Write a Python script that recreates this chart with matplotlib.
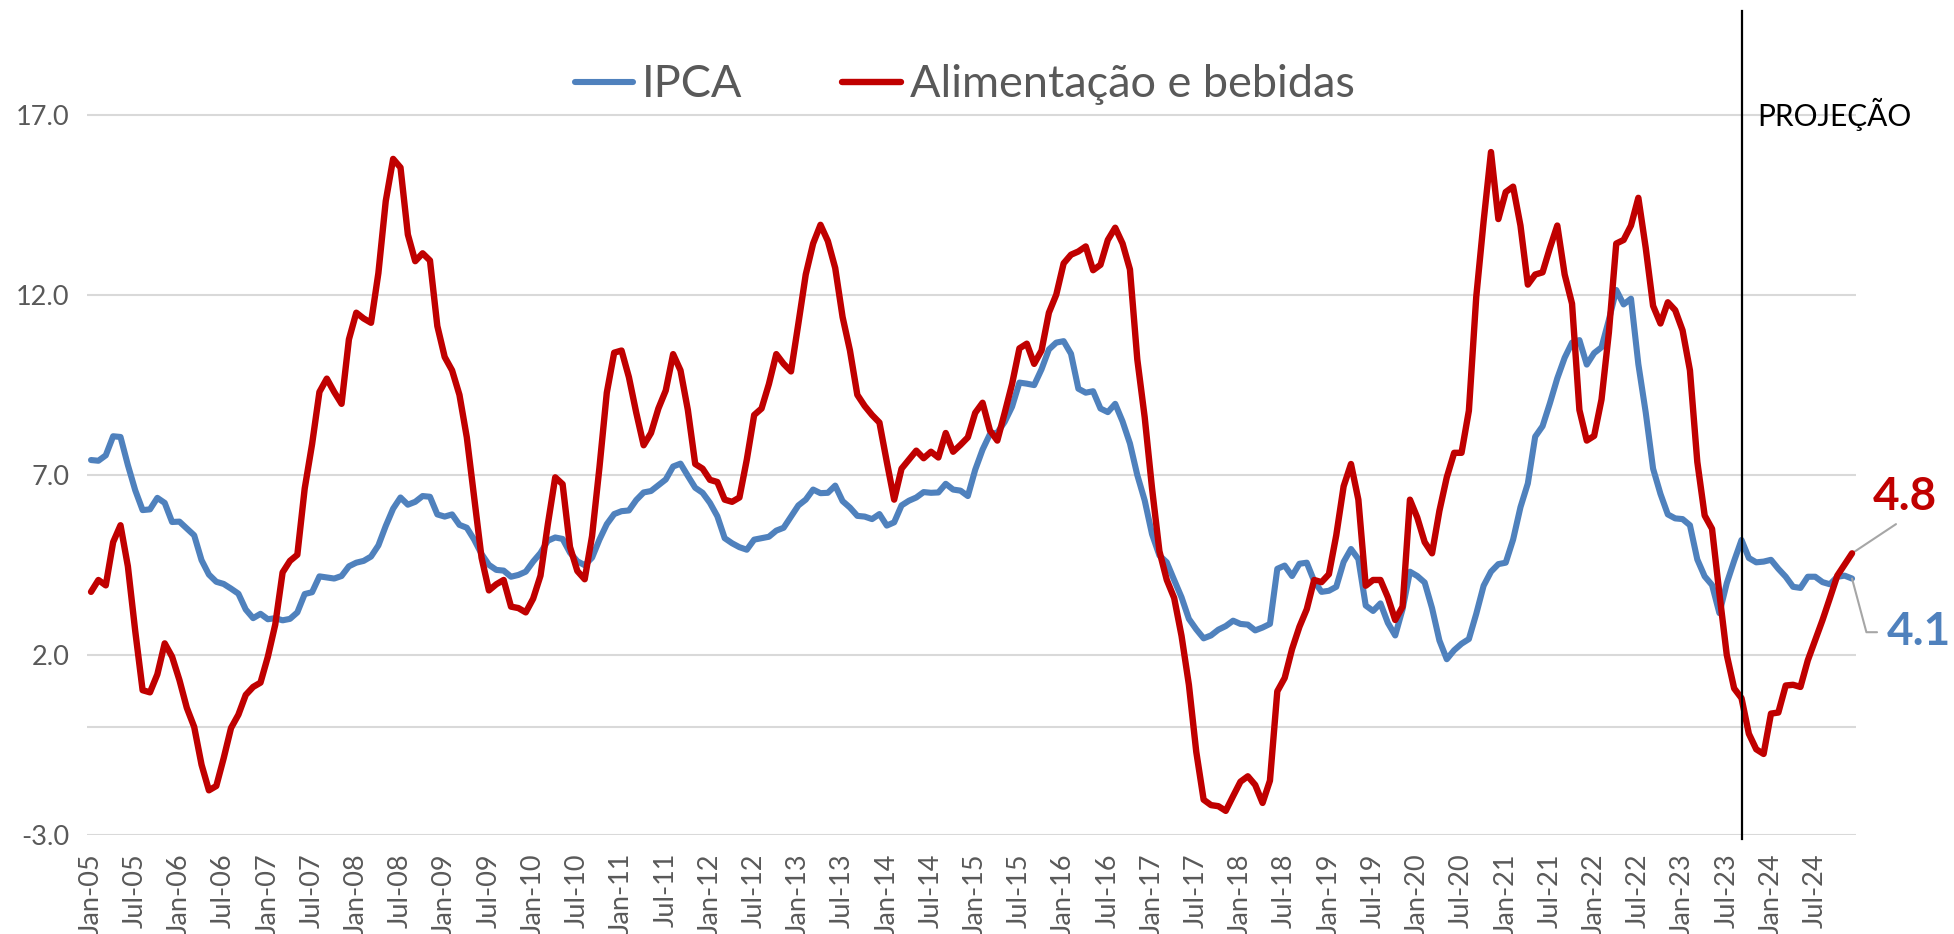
import numpy as np
import pandas as pd
import matplotlib
matplotlib.use('agg')
import matplotlib.pyplot as plt

plt.rcParams['font.family'] = ['Lato', 'DejaVu Sans']

# Monthly categories, Jan-05 .. Dec-24
months = pd.date_range('2005-01-01', periods=240, freq='MS')
tick_labels = [d.strftime('%b-%y') for d in months[::6]]
projection_start = '2023-09'

# IPCA, 12-month accumulated (%)
ipca = [
    7.41, 7.39, 7.54, 8.07, 8.05, 7.27, 6.57, 6.02, 6.04, 6.36, 6.22, 5.69,
    5.70, 5.51, 5.32, 4.63, 4.23, 4.03, 3.97, 3.84, 3.70, 3.26, 3.02, 3.14,
    2.99, 3.02, 2.96, 3.00, 3.18, 3.69, 3.74, 4.18, 4.15, 4.12, 4.19, 4.46,
    4.56, 4.61, 4.73, 5.04, 5.58, 6.06, 6.37, 6.17, 6.25, 6.41, 6.39, 5.90,
    5.84, 5.90, 5.61, 5.53, 5.20, 4.80, 4.50, 4.36, 4.34, 4.17, 4.22, 4.31,
    4.59, 4.83, 5.17, 5.26, 5.22, 4.84, 4.60, 4.49, 4.70, 5.20, 5.63, 5.91,
    5.99, 6.01, 6.30, 6.51, 6.55, 6.71, 6.87, 7.23, 7.31, 6.97, 6.64, 6.50,
    6.22, 5.85, 5.24, 5.10, 4.99, 4.92, 5.20, 5.24, 5.28, 5.45, 5.53, 5.84,
    6.15, 6.31, 6.59, 6.49, 6.50, 6.70, 6.27, 6.09, 5.86, 5.84, 5.77, 5.91,
    5.59, 5.68, 6.15, 6.28, 6.37, 6.52, 6.50, 6.51, 6.75, 6.59, 6.56, 6.41,
    7.14, 7.70, 8.13, 8.17, 8.47, 8.89, 9.56, 9.53, 9.49, 9.93, 10.48, 10.67,
    10.71, 10.36, 9.39, 9.28, 9.32, 8.84, 8.74, 8.97, 8.48, 7.87, 6.99, 6.29,
    5.35, 4.76, 4.57, 4.08, 3.60, 3.00, 2.71, 2.46, 2.54, 2.70, 2.80, 2.95,
    2.86, 2.84, 2.68, 2.76, 2.86, 4.39, 4.48, 4.19, 4.53, 4.56, 4.05, 3.75,
    3.78, 3.89, 4.58, 4.94, 4.66, 3.37, 3.22, 3.43, 2.89, 2.54, 3.27, 4.31,
    4.19, 4.01, 3.30, 2.40, 1.88, 2.13, 2.31, 2.44, 3.14, 3.92, 4.31, 4.52,
    4.56, 5.20, 6.10, 6.76, 8.06, 8.35, 8.99, 9.68, 10.25, 10.67, 10.74, 10.06,
    10.38, 10.54, 11.30, 12.13, 11.73, 11.89, 10.07, 8.73, 7.17, 6.47, 5.90, 5.79,
    5.77, 5.60, 4.65, 4.18, 3.94, 3.16, 3.99, 4.61, 5.19, 4.69, 4.57, 4.59,
    4.64, 4.39, 4.17, 3.89, 3.86, 4.17, 4.17, 4.02, 3.96, 4.17, 4.20, 4.12,
]

# Alimentacao e bebidas, 12-month accumulated (%)
alimentacao = [
    3.75, 4.08, 3.93, 5.13, 5.60, 4.46, 2.66, 1.02, 0.96, 1.46, 2.32, 1.95,
    1.30, 0.53, 0.00, -1.05, -1.76, -1.64, -0.87, -0.03, 0.34, 0.89, 1.11, 1.23,
    1.95, 2.84, 4.29, 4.61, 4.78, 6.62, 7.85, 9.30, 9.67, 9.30, 8.97, 10.76,
    11.50, 11.34, 11.22, 12.60, 14.60, 15.77, 15.53, 13.67, 12.93, 13.15, 12.95, 11.13,
    10.27, 9.90, 9.22, 8.04, 6.37, 4.70, 3.79, 3.96, 4.08, 3.34, 3.30, 3.18,
    3.56, 4.20, 5.63, 6.93, 6.74, 5.00, 4.33, 4.10, 5.30, 7.20, 9.28, 10.39,
    10.45, 9.71, 8.72, 7.82, 8.16, 8.84, 9.34, 10.35, 9.90, 8.80, 7.30, 7.17,
    6.86, 6.80, 6.31, 6.25, 6.37, 7.42, 8.66, 8.84, 9.52, 10.35, 10.08, 9.87,
    11.20, 12.56, 13.42, 13.94, 13.49, 12.74, 11.38, 10.45, 9.22, 8.91, 8.66, 8.45,
    7.36, 6.31, 7.17, 7.42, 7.67, 7.46, 7.64, 7.48, 8.16, 7.64, 7.83, 8.04,
    8.72, 9.00, 8.23, 7.95, 8.72, 9.52, 10.51, 10.64, 10.08, 10.45, 11.50, 12.00,
    12.87, 13.11, 13.20, 13.34, 12.68, 12.83, 13.52, 13.86, 13.42, 12.70, 10.20, 8.60,
    6.62, 4.88, 4.08, 3.58, 2.53, 1.17, -0.69, -2.02, -2.17, -2.20, -2.33, -1.92,
    -1.52, -1.37, -1.61, -2.11, -1.49, 0.99, 1.36, 2.16, 2.78, 3.27, 4.08, 4.02,
    4.24, 5.32, 6.68, 7.30, 6.31, 3.92, 4.08, 4.08, 3.60, 2.97, 3.34, 6.31,
    5.81, 5.13, 4.82, 6.00, 6.93, 7.61, 7.61, 8.78, 11.94, 14.04, 15.96, 14.10,
    14.85, 15.00, 13.92, 12.28, 12.56, 12.62, 13.30, 13.92, 12.56, 11.75, 8.80, 7.95,
    8.08, 9.09, 10.95, 13.42, 13.52, 13.92, 14.69, 13.30, 11.69, 11.20, 11.79, 11.57,
    11.01, 9.90, 7.36, 5.87, 5.50, 3.70, 2.00, 1.07, 0.80, -0.19, -0.62, -0.75,
    0.37, 0.40, 1.15, 1.17, 1.11, 1.85, 2.41, 2.97, 3.58, 4.20, 4.51, 4.82,
]

yticks = [-3, 2, 7, 12, 17]

BLUE = '#4F81BD'
RED = '#C00000'
GRAY_TXT = '#595959'
GRID = '#D9D9D9'

fig = plt.figure(figsize=(19.54, 9.34), dpi=100)
ax = fig.add_axes([0.0447, 0.106, 0.905, 0.887])

x = np.arange(len(months))
ax.plot(x, ipca, color=BLUE, lw=4.4, solid_joinstyle='round',
        solid_capstyle='round', label='IPCA', zorder=3)
ax.plot(x, alimentacao, color=RED, lw=4.6, solid_joinstyle='round',
        solid_capstyle='round', label='Alimentação e bebidas', zorder=4)

ax.set_xlim(-0.5, len(months) - 0.5)
ax.set_ylim(-3, 20)
ax.set_yticks(yticks)
ax.set_yticklabels(['{:.1f}'.format(v) for v in yticks])
ax.set_xticks(x[::6])
ax.set_xticklabels(tick_labels, rotation=90)
ax.tick_params(axis='both', length=0, labelsize=19.5, labelcolor=GRAY_TXT)
ax.tick_params(axis='y', pad=13)
ax.tick_params(axis='x', pad=13)
for s in ax.spines.values():
    s.set_visible(False)
ax.grid(axis='y', color=GRID, lw=1.5, zorder=0)
ax.axhline(0, color=GRID, lw=1.5, zorder=0)

# projection marker
proj_idx = months.get_loc(pd.Timestamp(projection_start))
ax.axvline(proj_idx, color='black', lw=1.6, ymin=-0.005, ymax=0.995,
           clip_on=False, zorder=5)
ax.annotate('PROJEÇÃO', xy=(proj_idx, 17), xytext=(11.5, 0),
            textcoords='offset points', ha='left', va='center',
            fontsize=21.5, color='black')

leg = ax.legend(loc='center', bbox_to_anchor=(0.4936, 0.909),
                bbox_transform=fig.transFigure, ncol=2, frameon=False,
                fontsize=32.5, handlelength=1.3, handletextpad=0.2,
                columnspacing=2.2)
for t in leg.get_texts():
    t.set_color(GRAY_TXT)

# end-point labels
last = len(x) - 1
ax.annotate('{:.1f}'.format(alimentacao[-1]), xy=(last, alimentacao[-1]),
            xytext=(38, 31), textcoords='offset points', ha='center',
            va='baseline', fontsize=33, fontweight='bold', color=RED,
            arrowprops=dict(arrowstyle='-', color='#A6A6A6', lw=1.5,
                            relpos=(0.5, 0), shrinkA=4, shrinkB=0))
ax.annotate('{:.1f}'.format(ipca[-1]), xy=(last, ipca[-1]),
            xytext=(25, -48), textcoords='offset points', ha='left',
            va='baseline', fontsize=33, fontweight='bold', color=BLUE,
            arrowprops=dict(arrowstyle='-', color='#A6A6A6', lw=1.5,
                            relpos=(0, 0.5), shrinkA=5, shrinkB=0,
                            connectionstyle='angle,angleA=0,angleB=-75,rad=0'))

fig.savefig('out.png', dpi=100)
